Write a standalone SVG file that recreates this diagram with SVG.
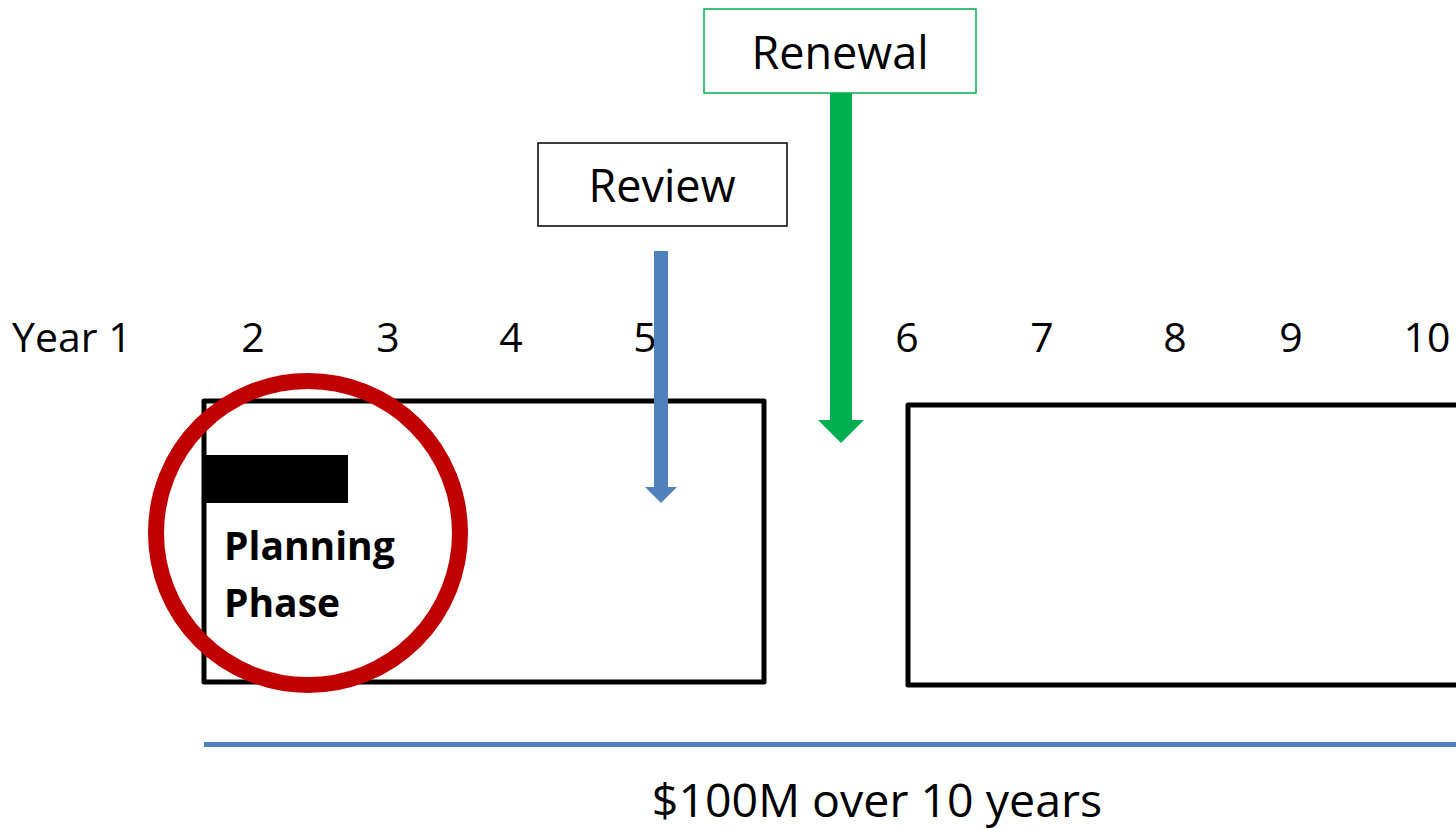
<svg xmlns="http://www.w3.org/2000/svg" width="1456" height="829" viewBox="0 0 1456 829">
<style>
text{font-family:"Open Sans","Liberation Sans",sans-serif;fill:#000}
.yr{font-size:41px;text-anchor:middle}
.lbl{font-size:45px;text-anchor:middle}
.phase{fill:none;stroke:#000;stroke-width:5;stroke-linejoin:round}
</style>
<rect width="1456" height="829" fill="#fff"/>
<g id="years">
<text x="12" y="352" font-size="41">Year 1</text>
<text class="yr" x="253" y="352">2</text>
<text class="yr" x="388" y="352">3</text>
<text class="yr" x="511" y="352">4</text>
<text class="yr" x="645" y="352">5</text>
<text class="yr" x="907" y="352">6</text>
<text class="yr" x="1042" y="352">7</text>
<text class="yr" x="1175" y="352">8</text>
<text class="yr" x="1291" y="352">9</text>
<text class="yr" x="1427" y="352">10</text>
</g>
<g id="renewal">
<rect x="704" y="9" width="272" height="84" fill="#fff" stroke="#00B050" stroke-width="1.5"/>
<text class="lbl" x="840" y="69">Renewal</text>
</g>
<g id="review">
<rect x="538" y="143" width="249" height="83" fill="#fff" stroke="#000" stroke-width="1.5"/>
<text class="lbl" x="662" y="202">Review</text>
</g>
<g id="phase1">
<rect class="phase" x="204" y="401" width="560" height="281"/>
<rect x="202" y="455" width="146" height="48" fill="#000"/>
<text x="224" y="560" font-size="39" font-weight="bold">Planning</text>
<text x="224" y="617" font-size="39" font-weight="bold">Phase</text>
</g>
<g id="phase2">
<rect class="phase" x="908" y="405" width="600" height="280"/>
</g>
<g id="highlight">
<circle cx="308" cy="533" r="152" fill="none" stroke="#C00000" stroke-width="16"/>
</g>
<g id="connectors">
<polygon points="654,251 668,251 668,487 677,487 661,503 645,487 654,487" fill="#4F81BD"/>
<polygon points="830,93 852,93 852,420 864,420 841,443 818,420 830,420" fill="#00B050"/>
<line x1="204" y1="744.5" x2="1456" y2="744.5" stroke="#4F81BD" stroke-width="5"/>
</g>
<g id="budget">
<text x="877" y="817" font-size="46.5" text-anchor="middle">$100M over 10 years</text>
</g>
</svg>
